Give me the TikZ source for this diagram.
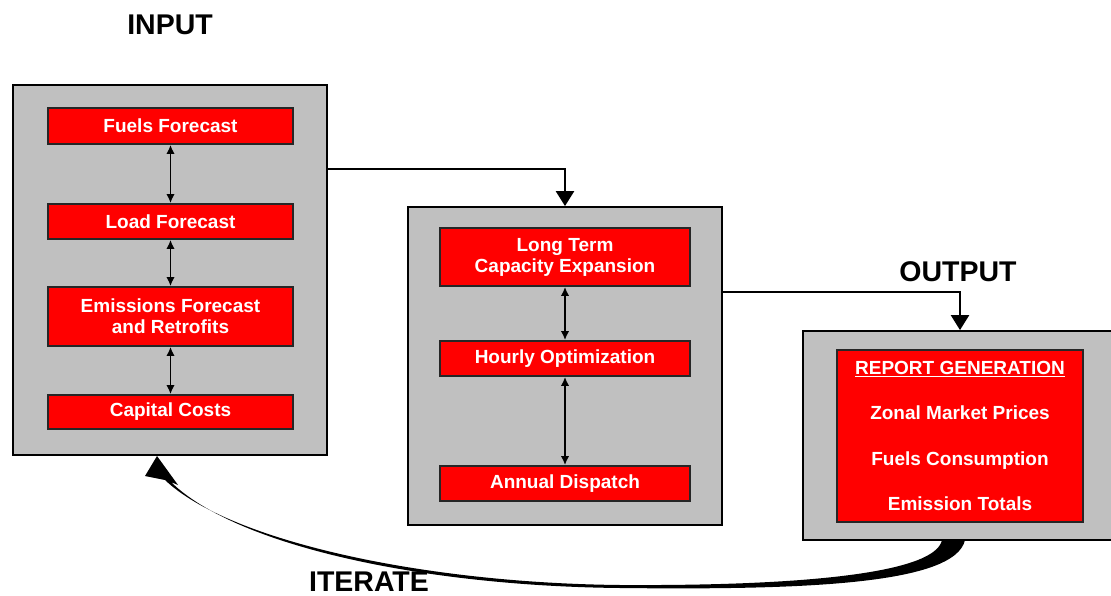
\documentclass[tikz,border=0pt]{standalone}
\usepackage{fontspec}
\setmainfont{Liberation Sans}
\usetikzlibrary{arrows.meta,calc}
\definecolor{boxgray}{HTML}{C0C0C0}
\definecolor{boxred}{HTML}{FF0000}
\tikzset{
  graybox/.style={draw=black, line width=1.8pt, fill=boxgray, inner sep=0pt},
  redbox/.style={draw=black!85, line width=1.8pt, fill=boxred, inner sep=0pt, text=white,
     font=\fontsize{19}{21}\selectfont\bfseries, align=center},
  biarrow/.style={line width=1.9pt, {Latex[length=9pt,width=8.5pt]}-{Latex[length=9pt,width=8.5pt]}},
  conn/.style={line width=2.4pt, -{Triangle[length=15pt,width=18pt]}},
  heading/.style={font=\fontsize{28.5}{30}\selectfont\bfseries}
}
\begin{document}
\begin{tikzpicture}[x=1pt,y=-1pt]
\useasboundingbox (0,0) rectangle (1111,596);
% labels
\node[heading] (lin) at (170,25) {INPUT};
\node[heading] (lout) at (958,272) {OUTPUT};
\node[heading] (lit) at (369,582) {ITERATE};
% input
\node[graybox, minimum width=314pt, minimum height=370pt] (in) at (170,270) {};
\node[redbox, minimum width=245pt, minimum height=36pt] (fuel) at (170.5,126) {Fuels Forecast};
\node[redbox, minimum width=245pt, minimum height=35pt] (load) at (170.5,221.5) {Load Forecast};
\node[redbox, minimum width=245pt, minimum height=59pt] (emis) at (170.5,316.5) {Emissions Forecast\\and Retrofits};
\node[redbox, minimum width=245pt, minimum height=34pt] (cap) at (170.5,412) {Capital Costs};
\draw[biarrow] (fuel) -- (load);
\draw[biarrow] (load) -- (emis);
\draw[biarrow] (emis) -- (cap);
% middle
\node[graybox, minimum width=314pt, minimum height=318pt] (mid) at (565,366) {};
\node[redbox, minimum width=250pt, minimum height=58pt] (lt) at (565,257) {Long Term\\Capacity Expansion};
\node[redbox, minimum width=250pt, minimum height=35pt] (ho) at (565,358.5) {Hourly Optimization};
\node[redbox, minimum width=250pt, minimum height=35pt] (ad) at (565,483.5) {Annual Dispatch};
\draw[biarrow] (lt) -- (ho);
\draw[biarrow] (ho) -- (ad);
% output
\node[graybox, minimum width=314pt, minimum height=209pt] (out) at (960,435.5) {};
\node[redbox, minimum width=246pt, minimum height=172pt, font=\fontsize{19}{45.5}\selectfont\bfseries] (rep) at (960,436)
  {\underline{REPORT GENERATION}\\Zonal Market Prices\\Fuels Consumption\\Emission Totals};
% connectors
\coordinate (c1) at ($(in.north east)+(0,85)$);
\coordinate (c2) at ($(mid.north east)+(0,86)$);
\draw[conn] (c1) -| (mid.north);
\draw[conn] (c2) -| (out.north);
% iterate arrow
\fill (965,540) .. controls (955,585) and (800,590) .. (620,588)
  .. controls (420,586) and (235,545) .. (171,482)
  -- (178,485) -- (157,456) -- (145,476) -- (165,480)
  .. controls (228,540) and (420,583) .. (620,585)
  .. controls (790,586) and (935,575) .. (942,540) -- cycle;
\end{tikzpicture}
\end{document}
